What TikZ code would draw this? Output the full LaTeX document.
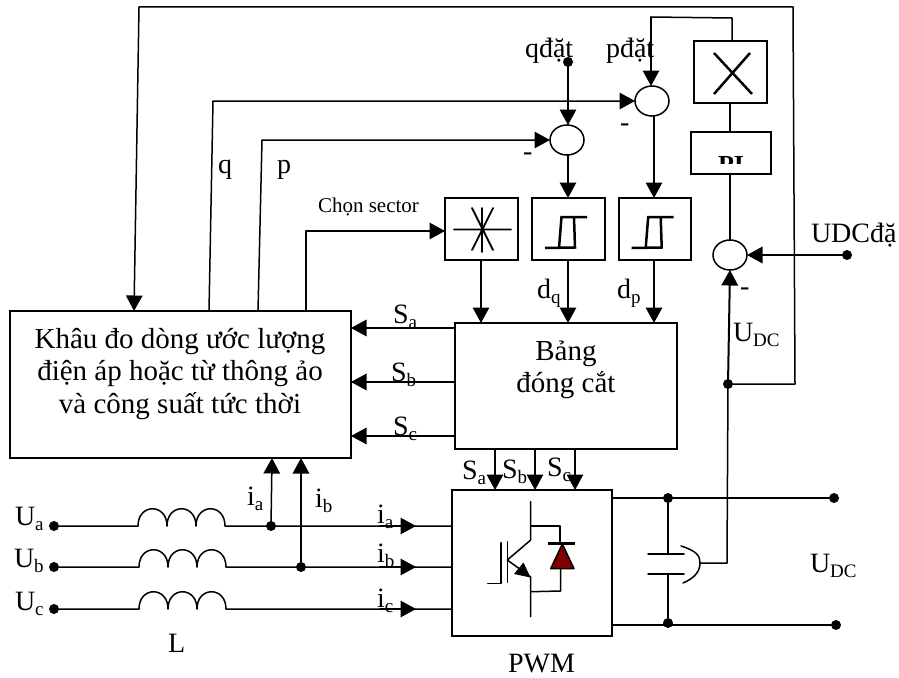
\documentclass[tikz,border=0pt]{standalone}
\usepackage{fontspec}
\setmainfont{Liberation Serif}
\usetikzlibrary{arrows.meta,shapes.geometric,calc}
\newcommand\idx[1]{\raisebox{-0.2em}{\fontsize{19}{19}\selectfont #1}}
\tikzset{
  wire/.style={line width=1.5pt,line cap=round,line join=round},
  arr/.style={wire,-{Triangle[length=15.5pt,width=16.5pt]}},
  box/.style={draw,line width=1.5pt,inner sep=0pt,outer sep=0pt,anchor=north west},
  sumc/.style={draw,ellipse,line width=1.5pt,inner sep=0pt,outer sep=0pt,minimum width=34pt,minimum height=30pt},
  dot/.style={circle,fill=black,inner sep=0pt,minimum size=10pt,outer sep=0pt},
  lab/.style={anchor=base west,inner sep=0pt,outer sep=0pt,font=\fontsize{28}{28}\selectfont},
  mid/.style={anchor=base,inner sep=0pt,outer sep=0pt,font=\fontsize{29}{29}\selectfont},
  glyph/.style={line width=2.5pt},
}
\begin{document}
\begin{tikzpicture}[x=1pt,y=-1pt]
\useasboundingbox (0,0) rectangle (899,677);
\fill[white] (0,0) rectangle (899,677);
% blocks
\node[box,minimum width=341pt,minimum height=147pt] (meas) at (10,311) {};
\node[box,minimum width=222pt,minimum height=126pt] (bang) at (455,323) {};
\node[box,minimum width=160pt,minimum height=146pt] (pwm) at (452,490) {};
\node[box,minimum width=73pt,minimum height=62pt] (sect) at (445,198) {};
\node[box,minimum width=73pt,minimum height=62pt] (hq) at (532,198) {};
\node[box,minimum width=72pt,minimum height=62pt] (hp) at (619,198) {};
\node[box,minimum width=73pt,minimum height=62pt] (mul) at (694,41) {};
\node[box,minimum width=80pt,minimum height=42pt] (pi) at (691,132) {};
\node[sumc] (cp) at (652,101) {};
\node[sumc] (cq) at (567,140) {};
\node[sumc] (cu) at (730,255) {};
% block texts
\node[mid] (t1) at (180,348) {Khâu đo dòng ước lượng};
\node[mid] (t2) at (180,380) {điện áp hoặc từ thông ảo};
\node[mid] (t3) at (180,413) {và công suất tức thời};
\node[mid] (t4) at (566,360) {Bảng};
\node[mid] (t5) at (566,392) {đóng cắt};
\begin{scope}
\clip (692,140) rectangle (770,163);
\node[anchor=base,inner sep=0pt,font=\fontsize{26}{26}\selectfont\bfseries] (tpi) at (731,173) {PI};
\end{scope}
% free points
\node[dot] (qset) at (568,62) {};
\node[dot] (uset) at (847,255) {};
\node[dot] (ua) at (54,526) {};
\node[dot] (ub) at (54,567) {};
\node[dot] (uc) at (54,609) {};
\node[dot] (ja) at (271,526) {};
\node[dot] (jb) at (301,567) {};
\node[dot] (dct) at (668,498) {};
\node[dot] (dcb) at (668,623) {};
\node[dot] (dctr) at (834,498) {};
\node[dot] (dcbr) at (836,625) {};
\node[dot] (jdc) at (728,384) {};
% feedback loop
\coordinate (lp1) at (793,7);
\coordinate (lp2) at (139,7);
\draw[wire] (jdc) -- (795,384) -- (lp1) -- (lp2);
\draw[arr] (lp2) -- (134,311);
% q, p, sector
\draw[arr] (209,311) -- (213,101) -- (cp.west);
\draw[arr] (258,311) -- (262,140) -- (cq.west);
\draw[arr] (306,311) -- (306,231) -- (sect.west |- 0,231);
% references
\draw[arr] (qset) -- (cq.north -| qset);
\coordinate (tp1) at (732,18);
\coordinate (tp2) at (651,17);
\draw[wire] (mul.north -| tp1) -- (tp1) -- (tp2);
\draw[arr] (tp2) -- (cp.north -| tp2);
\draw[wire] (mul.south -| 730,0) -- (pi.north -| 730,0);
\draw[wire] (pi.south -| 730,0) -- (cu.north);
\draw[arr] (uset) -- (cu.east);
\draw[arr] (cq.south -| 568,0) -- (hq.north -| 568,0);
\draw[arr] (cp.south -| 654,0) -- (hp.north -| 654,0);
\draw[arr] (sect.south -| 481,0) -- (bang.north -| 481,0);
\draw[arr] (hq.south -| 568,0) -- (bang.north -| 568,0);
\draw[arr] (hp.south -| 654,0) -- (bang.north -| 654,0);
% switching signals
\foreach \y in {328,382,436} \draw[arr] (bang.west |- 0,\y) -- (meas.east |- 0,\y);
\foreach \x in {495,535,575} \draw[arr] (bang.south -| \x,0) -- (pwm.north -| \x,0);
% current sensing
\draw[arr] (ja) -- (272,458);
\draw[arr] (jb) -- (meas.south -| jb);
% phase lines and coils
\foreach \n/\y/\s in {ua/526/0,ub/567/1,uc/609/1}{
  \draw[wire] (\n) -- (\s+138,\y)
    .. controls (\s+138,\y-23) and (\s+167,\y-23) .. (\s+167,\y)
    .. controls (\s+167,\y-23) and (\s+196,\y-23) .. (\s+196,\y)
    .. controls (\s+196,\y-23) and (\s+225,\y-23) .. (\s+225,\y) -- (pwm.west |- 0,\y);
  \draw[arr] (380,\y) -- (416,\y);
}
% DC side
\draw[wire] (pwm.east |- dct) -- (dct) -- (dctr);
\draw[wire] (pwm.east |- dcbr) -- (dcbr);
\draw[wire] (dct) -- (668,554);
\draw[wire] (668,574) -- (dcb);
\draw[wire] (648,554) -- (684,554);
\draw[wire] (648,574) -- (684,574);
\coordinate (sens) at (700,563);
\draw[wire] (681,546) .. controls (697,551) and (700,556) .. (sens) .. controls (700,571) and (695,578) .. (683,583);
\draw[wire] (sens) -- (727,563) -- (jdc);
\draw[arr,line width=2pt] (jdc) -- (cu.south);
% multiplier, sector and hysteresis glyphs
\draw[glyph] (714,53) -- (752,94) (750,53) -- (714,94);
\draw[wire,line width=1.8pt] (454,229.5) -- (511,229.5) (472,208) -- (493,250) (493,208) -- (472,250) (482,208) -- (482,252);
\foreach \d in {0,86.7}{
  \draw[glyph] (545+\d,248) -- (575+\d,247.5) -- (574+\d,217);
  \draw[glyph] (559+\d,248) -- (561.5+\d,217) -- (587+\d,217);
}
% IGBT and diode
\draw[wire] (530.7,501.7) -- (530.7,540) -- (507.3,560) -- (530.7,577) -- (530.7,616.7);
\fill (523.5,562.5) -- (530.5,577.5) -- (514,574) -- cycle;
\draw[wire] (530.7,526) -- (560,526) -- (560,543);
\draw[wire] (560.7,568.7) -- (560.7,591) -- (530.7,591.7);
\draw[line width=2.8pt] (548,543.3) -- (575,543.3);
\draw[wire,fill={rgb,255:red,128;green,0;blue,0}] (562.3,544) -- (550.7,568.7) -- (574,568.7) -- cycle;
\draw[wire] (501,542.7) -- (501,583.3) -- (487.7,583.3);
\draw[wire] (507.3,541.7) -- (507.3,582.3);
% labels
\node[lab] (l1) at (218,173) {q};
\node[lab] (l2) at (277,173) {p};
\node[lab,font=\fontsize{21}{21}\selectfont] (l3) at (318,212) {Chọn sector};
\node[lab] (l4) at (525,57) {qđặt};
\node[lab] (l5) at (606,57) {pđặt};
\node[lab] (l6) at (811,242) {UDCđặ};
\node[lab] (l7) at (537,298) {d\idx{q}};
\node[lab] (l8) at (617,298) {d\idx{p}};
\node[lab] (l9) at (733,341) {U\idx{DC}};
\node[lab] (l10) at (810,572) {U\idx{DC}};
\node[lab] (l11) at (168,652) {L};
\node[lab] (l12) at (508,672) {PWM};
\node[lab] (l13) at (393,323) {S\idx{a}};
\node[lab] (l14) at (391,381) {S\idx{b}};
\node[lab] (l15) at (393,435) {S\idx{c}};
\node[lab] (l16) at (462,479) {S\idx{a}};
\node[lab] (l17) at (502,478) {S\idx{b}};
\node[lab] (l18) at (547,476) {S\idx{c}};
\node[lab] (l19) at (15,525) {U\idx{a}};
\node[lab] (l20) at (14,567) {U\idx{b}};
\node[lab] (l21) at (15,610) {U\idx{c}};
\node[lab] (l22) at (247,505) {i\idx{a}};
\node[lab] (l23) at (315,507) {i\idx{b}};
\node[lab] (l24) at (377,523) {i\idx{a}};
\node[lab] (l25) at (377,562) {i\idx{b}};
\node[lab] (l26) at (377,607) {i\idx{c}};
\node[lab] (m1) at (523,160) {-};
\node[lab] (m2) at (620,131) {-};
\node[lab] (m3) at (740,295) {-};
\end{tikzpicture}
\end{document}
